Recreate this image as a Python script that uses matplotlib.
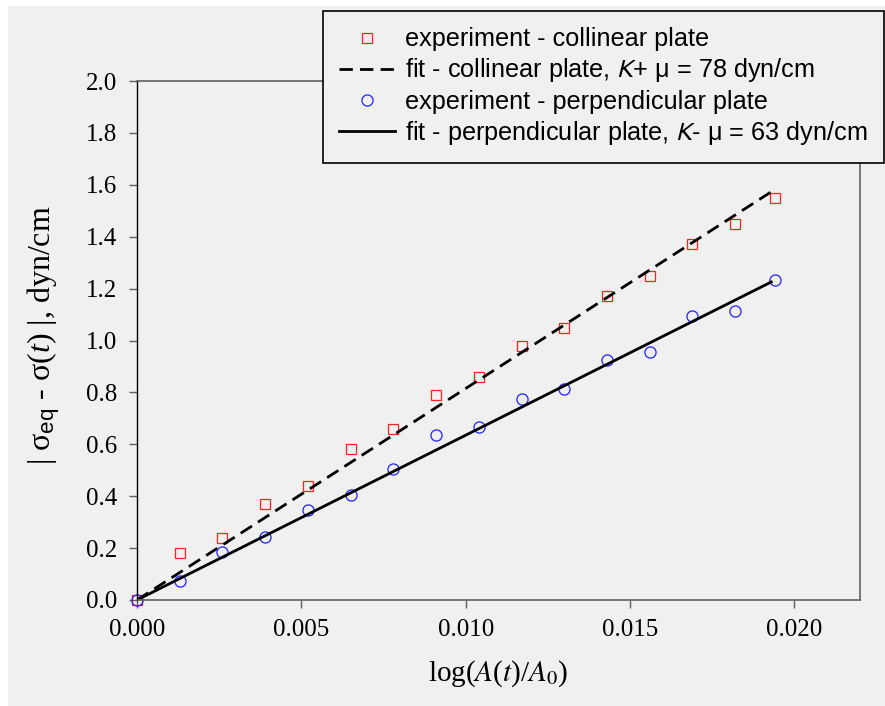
import matplotlib
matplotlib.use('Agg')
import matplotlib.pyplot as plt
from matplotlib.patches import Rectangle

# log(A(t)/A0) values for the two series
x_col = [0.0, 0.0013, 0.0026, 0.0039, 0.0052, 0.0065, 0.0078, 0.0091,
         0.0104, 0.0117, 0.0130, 0.0143, 0.0156, 0.0169, 0.0182, 0.0194]
y_col = [0.0, 0.18, 0.24, 0.37, 0.44, 0.58, 0.66, 0.79,
         0.86, 0.98, 1.05, 1.17, 1.25, 1.37, 1.45, 1.55]

x_perp = [0.0, 0.0013, 0.0026, 0.0039, 0.0052, 0.0065, 0.0078, 0.0091,
          0.0104, 0.0117, 0.0130, 0.0143, 0.0156, 0.0169, 0.0182, 0.0194]
y_perp = [0.0, 0.075, 0.185, 0.243, 0.345, 0.405, 0.505, 0.635,
          0.665, 0.775, 0.815, 0.925, 0.955, 1.095, 1.115, 1.235]

# linear fits through the origin
x_fit = [0.0, 0.0193]
slope_col = 81.5
slope_perp = 63.5

x_ticks = [0.0, 0.005, 0.010, 0.015, 0.020]
y_ticks = [0.0, 0.2, 0.4, 0.6, 0.8, 1.0, 1.2, 1.4, 1.6, 1.8, 2.0]

labels = ['experiment - collinear plate',
          'fit - collinear plate, $K$+ \u03bc = 78 dyn/cm',
          'experiment - perpendicular plate',
          'fit - perpendicular plate, $K$- \u03bc = 63 dyn/cm']

plt.rcParams['mathtext.fontset'] = 'custom'
plt.rcParams['mathtext.rm'] = 'Liberation Sans'
plt.rcParams['mathtext.it'] = 'Liberation Serif:italic'
plt.rcParams['mathtext.sf'] = 'Liberation Sans'

bg = '#f0f0f0'
grey = '#606060'

fig = plt.figure(figsize=(8.85, 7.06), dpi=100)
fig.patch.set_facecolor('white')
fig.add_artist(Rectangle((8 / 885, 0), 1, (706 - 6) / 706, transform=fig.transFigure,
                         facecolor=bg, edgecolor='none', zorder=-10))

ax = fig.add_axes([137 / 885, 106 / 706, 723 / 885, 519 / 706])
ax.set_facecolor(bg)

fit_col = [slope_col * v for v in x_fit]
fit_perp = [slope_perp * v for v in x_fit]

h1, = ax.plot(x_col, y_col, linestyle='none', marker='s', markersize=7.5,
              markerfacecolor='none', markeredgecolor='#ff2020', markeredgewidth=0.9,
              clip_on=False)
h2, = ax.plot(x_fit, fit_col, color='black', linewidth=2.0,
              linestyle=(0, (4.8, 2.6)))
h3, = ax.plot(x_perp, y_perp, linestyle='none', marker='o', markersize=8,
              markerfacecolor='none', markeredgecolor='#2020ff', markeredgewidth=0.9,
              clip_on=False)
h4, = ax.plot(x_fit, fit_perp, color='black', linewidth=2.0)

ax.set_xlim(0, 0.022)
ax.set_ylim(0, 2.0)
ax.set_xticks(x_ticks)
ax.set_xticklabels(['%.3f' % v for v in x_ticks])
ax.set_yticks(y_ticks)
ax.set_yticklabels(['%.1f' % v for v in y_ticks])

for lab in ax.get_xticklabels() + ax.get_yticklabels():
    lab.set_fontfamily('Liberation Serif')
    lab.set_fontsize(18)

ax.tick_params(direction='out', length=6, width=1, color=grey, pad=8)
for side in ['top', 'right', 'bottom']:
    ax.spines[side].set_color(grey)
    ax.spines[side].set_linewidth(1.2)
ax.spines['left'].set_color('black')
ax.spines['left'].set_linewidth(1.0)

ax.set_xlabel('log($A$($t$)/$A_0$)', fontfamily='Liberation Serif', fontsize=21,
              math_fontfamily='stix', labelpad=12)
ax.set_ylabel('| \u03c3$_{\\mathrm{eq}}$ - \u03c3($t$) |, dyn/cm', fontfamily='Liberation Serif',
              fontsize=23, math_fontfamily='custom')
ax.yaxis.set_label_coords(-0.104, 0.51)

leg = fig.legend([h1, h2, h3, h4], labels, loc='upper right',
                 bbox_to_anchor=(884 / 885, 1 - 11 / 706), bbox_transform=fig.transFigure,
                 borderaxespad=0, fancybox=False, framealpha=1, facecolor=bg,
                 edgecolor='black', prop={'family': 'Liberation Sans', 'size': 18.2,
                                          'math_fontfamily': 'stixsans'},
                 handlelength=2.2, handletextpad=0.4, labelspacing=0.2,
                 borderpad=0.65, numpoints=1)
leg.get_frame().set_linewidth(1.2)

fig.savefig('out.png', dpi=100, facecolor=fig.get_facecolor())
